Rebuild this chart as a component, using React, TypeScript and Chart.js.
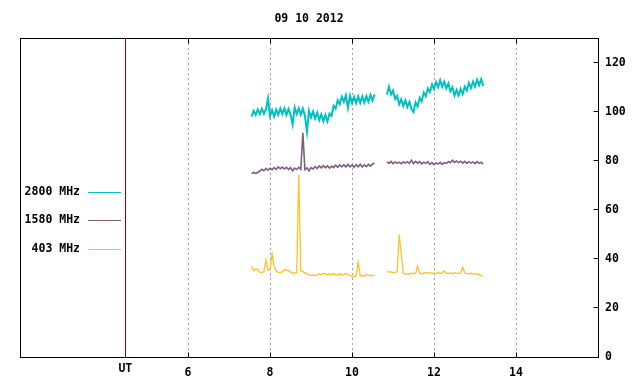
import React, { useEffect, useRef } from "react";
import { Chart, registerables } from "chart.js";

Chart.register(...registerables);

const TITLE = "09 10 2012";
const X_MIN = 1.9;
const X_MAX = 16;
const Y_MIN = 0;
const Y_MAX = 130;
const X_TICKS = [6, 8, 10, 12, 14];
const UT_POS = 4.47;
const UT_LABEL = "UT";
const Y_TICKS = [0, 20, 40, 60, 80, 100, 120];

const SERIES_NAMES = ["2800 MHz", "1580 MHz", "403 MHz"];
const SERIES_COLORS = ["#00c1c1", "#7e5f80", "#ffc125"];
const SERIES_WIDTHS = [2, 1.6, 1.3];

// two observation segments, sampled every STEP hours
const SEG_A_START = 7.55;
const SEG_B_START = 10.85;
const STEP = 0.05;

const mhz2800A = [
  98.0, 100.3, 98.6, 100.9, 99.0, 101.2, 99.1, 101.0, 105.4, 98.2,
  100.6, 98.0, 100.8, 98.7, 101.3, 99.0, 101.4, 98.6, 101.1, 98.8,
  94.8, 101.7, 99.0, 101.4, 98.7, 101.2, 98.3, 91.8, 100.4, 97.6,
  100.0, 97.2, 99.6, 96.5, 98.9, 96.1, 98.6, 96.0, 99.2, 98.2,
  102.4, 101.2, 104.6, 103.0, 106.1, 104.0, 106.7, 101.5, 106.5, 103.5,
  106.0, 103.5, 106.2, 103.6, 106.2, 103.6, 106.3, 104.0, 106.8, 104.6,
  107.0,
];
const mhz2800B = [
  107.0, 110.2, 107.0, 108.6, 105.1, 106.4, 103.0, 105.0, 102.3, 104.6,
  101.9, 104.0, 101.0, 99.8, 103.8, 102.1, 105.6, 104.2, 107.8, 106.3,
  109.5, 108.0, 111.1, 109.2, 112.0, 110.0, 112.8, 110.1, 112.2, 109.5,
  111.5, 108.3, 109.9, 106.5, 108.8, 106.5, 109.2, 107.2, 110.2, 108.6,
  111.7, 109.6, 112.2, 110.2, 113.0, 110.8, 113.2, 110.5,
];

const mhz1580A = [
  74.8, 75.2, 74.8, 75.2, 75.8, 76.5, 75.9, 76.8, 76.2, 76.9,
  76.3, 77.2, 76.5, 77.5, 76.7, 77.4, 76.6, 77.3, 76.4, 77.2,
  75.9, 77.0, 76.4, 77.3, 76.5, 91.4, 76.4, 77.1, 75.9, 77.2,
  76.6, 77.6, 76.8, 77.9, 77.1, 78.0, 77.2, 77.9, 77.0, 77.8,
  77.2, 78.2, 77.3, 78.3, 77.5, 78.4, 77.4, 78.5, 77.5, 78.3,
  77.3, 78.4, 77.5, 78.5, 77.4, 78.3, 77.6, 78.5, 77.8, 78.7,
  79.0,
];
const mhz1580B = [
  79.5, 78.9, 79.7, 78.8, 79.5, 78.9, 79.4, 78.8, 79.5, 79.0,
  79.6, 78.9, 80.2, 78.8, 79.7, 79.0, 79.6, 78.7, 79.4, 78.9,
  79.6, 78.5, 79.2, 78.4, 79.1, 78.6, 79.3, 78.5, 79.2, 78.9,
  79.6, 79.2, 80.2, 79.3, 79.9, 79.2, 79.8, 79.0, 79.7, 78.9,
  79.6, 79.0, 79.5, 78.8, 79.6, 78.9, 79.4, 78.6,
];

const mhz403A = [
  37.1, 35.2, 36.0, 35.6, 34.5, 34.4, 34.8, 39.5, 35.3, 35.6,
  42.0, 36.8, 35.0, 34.5, 34.4, 34.8, 35.7, 35.4, 35.2, 34.6,
  34.1, 34.4, 34.3, 74.3, 35.2, 34.8, 34.4, 33.9, 33.5, 33.3,
  33.4, 33.2, 33.5, 33.8, 33.7, 34.1, 34.0, 33.5, 33.8, 33.5,
  34.0, 33.6, 33.4, 33.9, 33.5, 33.6, 34.1, 33.5, 33.3, 32.8,
  32.7, 33.2, 38.7, 33.0, 33.2, 33.0, 33.6, 33.1, 33.4, 33.0,
  33.5,
];
const mhz403B = [
  35.0, 34.5, 34.8, 34.3, 34.5, 34.7, 49.8, 42.3, 34.1, 33.8,
  34.0, 33.7, 34.2, 33.9, 34.1, 37.1, 34.0, 33.8, 34.3, 34.4,
  34.2, 34.5, 34.0, 34.3, 33.9, 34.5, 34.0, 34.3, 35.0, 34.2,
  34.0, 34.3, 33.9, 34.4, 34.2, 34.0, 34.3, 36.6, 34.2, 34.0,
  33.8, 34.2, 33.7, 34.0, 33.8, 33.6, 33.2, 33.0,
];

const SERIES_SEGMENTS = [
  [mhz2800A, mhz2800B],
  [mhz1580A, mhz1580B],
  [mhz403A, mhz403B],
];

const FONT_FAMILY = "'DejaVu Sans Mono', monospace";
const FONT = { family: FONT_FAMILY, size: 11.5, weight: "bold" as const, lineHeight: 1.2 };

function buildPoints(a: number[], b: number[]) {
  const pts: { x: number; y: number | null }[] = [];
  a.forEach((v, i) => pts.push({ x: SEG_A_START + i * STEP, y: v }));
  pts.push({ x: (SEG_A_START + (a.length - 1) * STEP + SEG_B_START) / 2, y: null });
  b.forEach((v, i) => pts.push({ x: SEG_B_START + i * STEP, y: v }));
  return pts;
}

const align = (p: number) => Math.round(p - 0.5) + 0.5;

const framePlugin = {
  id: "frame",
  afterDatasetsDraw(chart: any) {
    const { ctx, chartArea: a, scales } = chart;
    const xs = scales.x;
    const ys = scales.y;
    const line = (x1: number, y1: number, x2: number, y2: number) => {
      ctx.beginPath();
      ctx.moveTo(x1, y1);
      ctx.lineTo(x2, y2);
      ctx.stroke();
    };
    ctx.save();
    ctx.lineWidth = 1;
    ctx.setLineDash([]);
    // UT marker line
    const ux = align(xs.getPixelForValue(UT_POS));
    ctx.strokeStyle = "#8b0000";
    line(ux, a.top, ux, a.bottom);
    // frame
    ctx.strokeStyle = "#000";
    const l = align(a.left), r = align(a.right), t = align(a.top), b = align(a.bottom);
    ctx.strokeRect(l, t, r - l, b - t);
    // x tick marks (bottom and top, pointing inward)
    X_TICKS.forEach((v) => {
      const px = align(xs.getPixelForValue(v));
      line(px, b, px, b - 5);
      line(px, t, px, t + 5);
    });
    // y tick marks (right, pointing inward)
    Y_TICKS.forEach((v) => {
      if (v === Y_MIN) return;
      const py = align(ys.getPixelForValue(v));
      line(r, py, r - 5, py);
    });
    // legend
    ctx.font = `bold 11.5px ${FONT_FAMILY}`;
    ctx.textAlign = "right";
    ctx.textBaseline = "middle";
    ctx.fillStyle = "#000";
    chart.data.datasets.forEach((ds: any, i: number) => {
      const y = a.top + 154 + 28.5 * i;
      ctx.fillText(ds.label, a.left + 60, y);
      ctx.strokeStyle = ds.borderColor;
      const ly = align(y);
      line(a.left + 68, ly, a.left + 101, ly);
    });
    ctx.restore();
  },
};

export default function App() {
  const ref = useRef<HTMLCanvasElement | null>(null);

  useEffect(() => {
    if (!ref.current) return;
    const datasets = SERIES_NAMES.map((name, i) => ({
      label: name,
      data: buildPoints(SERIES_SEGMENTS[i][0], SERIES_SEGMENTS[i][1]),
      borderColor: SERIES_COLORS[i],
      backgroundColor: SERIES_COLORS[i],
      borderWidth: SERIES_WIDTHS[i],
      pointRadius: 0,
      tension: 0,
      spanGaps: false,
      fill: false,
    }));
    const chart = new Chart(ref.current, {
      type: "line",
      data: { datasets },
      options: {
        animation: false,
        responsive: false,
        maintainAspectRatio: false,
        events: [],
        layout: { padding: { left: 20, top: 0, right: 0, bottom: 0 } },
        plugins: {
          legend: { display: false },
          tooltip: { enabled: false },
          title: {
            display: true,
            text: TITLE,
            color: "#000",
            font: FONT,
            fullSize: false,
            padding: { top: 12, bottom: 12.2 },
          },
        },
        scales: {
          x: {
            type: "linear",
            position: "bottom",
            min: X_MIN,
            max: X_MAX,
            afterBuildTicks: (s: any) => {
              s.ticks = [UT_POS, ...X_TICKS].map((v) => ({ value: v }));
            },
            afterFit: (s: any) => {
              s.height = 27;
            },
            ticks: {
              autoSkip: false,
              maxRotation: 0,
              color: "#000",
              padding: 9,
              font: (ctx: any) =>
                ctx.tick && ctx.tick.value === UT_POS
                  ? { ...FONT, lineHeight: 0.5 }
                  : FONT,
              callback: (v: any) => (v === UT_POS ? UT_LABEL : String(v)),
            },
            grid: {
              drawTicks: false,
              lineWidth: 1,
              color: (ctx: any) =>
                ctx.tick && ctx.tick.value === UT_POS ? "rgba(0,0,0,0)" : "#a0a0a0",
            },
            border: { display: false, dash: [2, 3] },
          },
          y: {
            type: "linear",
            position: "right",
            min: Y_MIN,
            max: Y_MAX,
            afterBuildTicks: (s: any) => {
              s.ticks = Y_TICKS.map((v) => ({ value: v }));
            },
            afterFit: (s: any) => {
              s.width = 42;
            },
            ticks: {
              color: "#000",
              padding: 7,
              font: FONT,
              callback: (v: any) => String(v),
            },
            grid: { display: false, drawTicks: false },
            border: { display: false },
          },
        },
      },
      plugins: [framePlugin],
    } as any);
    return () => chart.destroy();
  }, []);

  return (
    <div style={{ position: "absolute", left: 0, top: 0, width: 640, height: 384, background: "#fff" }}>
      <canvas ref={ref} width={640} height={384} style={{ display: "block" }} />
    </div>
  );
}
